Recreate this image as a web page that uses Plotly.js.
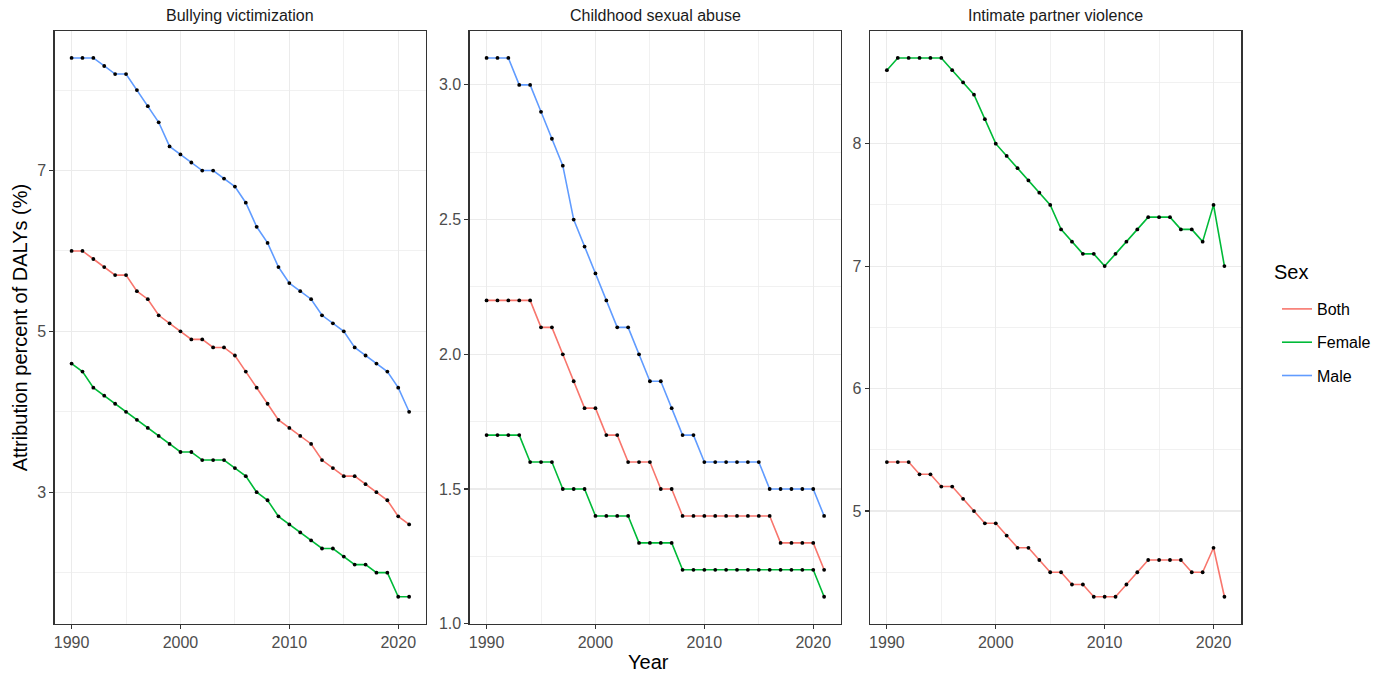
<!DOCTYPE html>
<html>
<head>
<meta charset="utf-8">
<script src="https://cdn.plot.ly/plotly-3.0.1.min.js"></script>
<style>html,body{margin:0;padding:0;background:#fff;}#chart{width:1394px;height:680px;}</style>
</head>
<body>
<div id="chart"></div>
<script>
var years = [1990,1991,1992,1993,1994,1995,1996,1997,1998,1999,2000,2001,2002,2003,2004,2005,2006,2007,2008,2009,2010,2011,2012,2013,2014,2015,2016,2017,2018,2019,2020,2021];
var panelTitles = ["Bullying victimization","Childhood sexual abuse","Intimate partner violence"];
var sexes = ["Both","Female","Male"];
var sexColors = {Both:"#F8766D", Female:"#00BA38", Male:"#619CFF"};

var bullyBoth   = [6.0,6.0,5.9,5.8,5.7,5.7,5.5,5.4,5.2,5.1,5.0,4.9,4.9,4.8,4.8,4.7,4.5,4.3,4.1,3.9,3.8,3.7,3.6,3.4,3.3,3.2,3.2,3.1,3.0,2.9,2.7,2.6];
var bullyFemale = [4.6,4.5,4.3,4.2,4.1,4.0,3.9,3.8,3.7,3.6,3.5,3.5,3.4,3.4,3.4,3.3,3.2,3.0,2.9,2.7,2.6,2.5,2.4,2.3,2.3,2.2,2.1,2.1,2.0,2.0,1.7,1.7];
var bullyMale   = [8.4,8.4,8.4,8.3,8.2,8.2,8.0,7.8,7.6,7.3,7.2,7.1,7.0,7.0,6.9,6.8,6.6,6.3,6.1,5.8,5.6,5.5,5.4,5.2,5.1,5.0,4.8,4.7,4.6,4.5,4.3,4.0];

var csaBoth   = [2.2,2.2,2.2,2.2,2.2,2.1,2.1,2.0,1.9,1.8,1.8,1.7,1.7,1.6,1.6,1.6,1.5,1.5,1.4,1.4,1.4,1.4,1.4,1.4,1.4,1.4,1.4,1.3,1.3,1.3,1.3,1.2];
var csaFemale = [1.7,1.7,1.7,1.7,1.6,1.6,1.6,1.5,1.5,1.5,1.4,1.4,1.4,1.4,1.3,1.3,1.3,1.3,1.2,1.2,1.2,1.2,1.2,1.2,1.2,1.2,1.2,1.2,1.2,1.2,1.2,1.1];
var csaMale   = [3.1,3.1,3.1,3.0,3.0,2.9,2.8,2.7,2.5,2.4,2.3,2.2,2.1,2.1,2.0,1.9,1.9,1.8,1.7,1.7,1.6,1.6,1.6,1.6,1.6,1.6,1.5,1.5,1.5,1.5,1.5,1.4];

var ipvBoth   = [5.4,5.4,5.4,5.3,5.3,5.2,5.2,5.1,5.0,4.9,4.9,4.8,4.7,4.7,4.6,4.5,4.5,4.4,4.4,4.3,4.3,4.3,4.4,4.5,4.6,4.6,4.6,4.6,4.5,4.5,4.7,4.3];
var ipvFemale = [8.6,8.7,8.7,8.7,8.7,8.7,8.6,8.5,8.4,8.2,8.0,7.9,7.8,7.7,7.6,7.5,7.3,7.2,7.1,7.1,7.0,7.1,7.2,7.3,7.4,7.4,7.4,7.3,7.3,7.2,7.5,7.0];

var panels = [
  {series:{Both:bullyBoth, Female:bullyFemale, Male:bullyMale}},
  {series:{Both:csaBoth, Female:csaFemale, Male:csaMale}},
  {series:{Both:ipvBoth, Female:ipvFemale}}
];

var W = 1394, H = 680;
var FONT = "Liberation Sans, Arial, sans-serif";
var px = function(v){ return v / W; };
var py = function(v){ return 1 - v / H; };
var domX = [[px(54.7), px(426)], [px(469.7), px(841)], [px(870), px(1241.3)]];
var domY = [py(623.7), py(31)];

var traces = [];
panels.forEach(function(p, i){
  var ax = i === 0 ? "" : String(i+1);
  sexes.forEach(function(s){
    if (!p.series[s]) return;
    traces.push({
      type:"scatter", mode:"lines", x:years, y:p.series[s],
      xaxis:"x"+ax, yaxis:"y"+ax, name:s, legendgroup:s,
      showlegend: i === 0,
      line:{color:sexColors[s], width:1.6}, hoverinfo:"x+y+name"
    });
  });
  sexes.forEach(function(s){
    if (!p.series[s]) return;
    traces.push({
      type:"scatter", mode:"markers", x:years, y:p.series[s],
      xaxis:"x"+ax, yaxis:"y"+ax, showlegend:false, legendgroup:s,
      marker:{color:"#000000", size:3.8}, hoverinfo:"skip"
    });
  });
});

function xAxis(i){
  return {
    domain: domX[i], anchor: i === 0 ? "y" : "y"+(i+1),
    range:[1988.45, 2022.55], tickvals:[1990,2000,2010,2020],
    ticks:"outside", ticklen:4, tickcolor:"#333333", tickwidth:1.1,
    tickfont:{family:FONT, size:16, color:"#4d4d4d"},
    showgrid:true, gridcolor:"#ebebeb", gridwidth:1.2,
    minor:{tickvals:[1995,2005,2015], showgrid:true, gridcolor:"#ebebeb", gridwidth:0.7, ticks:""},
    showline:true, linecolor:"#333333", linewidth:1.3, mirror:true,
    zeroline:false, fixedrange:true
  };
}
function yAxis(i, range, tickvals, minorvals, fmt){
  return {
    domain: domY, anchor: i === 0 ? "x" : "x"+(i+1),
    range: range, tickvals: tickvals, tickformat: fmt,
    ticks:"outside", ticklen:4, tickcolor:"#333333", tickwidth:1.1,
    tickfont:{family:FONT, size:16, color:"#4d4d4d"},
    showgrid:true, gridcolor:"#ebebeb", gridwidth:1.2,
    minor:{tickvals:minorvals, showgrid:true, gridcolor:"#ebebeb", gridwidth:0.7, ticks:""},
    showline:true, linecolor:"#333333", linewidth:1.3, mirror:true,
    zeroline:false, fixedrange:true
  };
}

var annotations = panelTitles.map(function(t, i){
  return {text:t, xref:"paper", yref:"paper", x:(domX[i][0]+domX[i][1])/2, y:py(15),
    xanchor:"center", yanchor:"middle", showarrow:false,
    font:{family:FONT, size:16, color:"#1a1a1a"}};
});
annotations.push({text:"Attribution percent of DALYs (%)", xref:"paper", yref:"paper",
  x:px(20), y:(domY[0]+domY[1])/2, textangle:-90, xanchor:"center", yanchor:"middle",
  showarrow:false, font:{family:FONT, size:20, color:"#000000"}});
annotations.push({text:"Year", xref:"paper", yref:"paper",
  x:(domX[0][0]+domX[2][1])/2, y:py(662), xanchor:"center", yanchor:"middle",
  showarrow:false, font:{family:FONT, size:20, color:"#000000"}});
annotations.push({text:"Sex", xref:"paper", yref:"paper",
  x:px(1272), y:py(272), xanchor:"left", yanchor:"middle",
  showarrow:false, font:{family:FONT, size:20, color:"#000000"}});

var layout = {
  width:W, height:H, margin:{l:0,r:0,t:0,b:0},
  paper_bgcolor:"#ffffff", plot_bgcolor:"#ffffff",
  font:{family:FONT},
  showlegend:true,
  legend:{x:px(1277), y:py(292), xanchor:"left", yanchor:"top",
    font:{family:FONT, size:16, color:"#000000"},
    tracegroupgap:9.5, bgcolor:"rgba(0,0,0,0)"},
  xaxis: xAxis(0), xaxis2: xAxis(1), xaxis3: xAxis(2),
  yaxis: yAxis(0, [1.365, 8.735], [3,5,7], [2,4,6,8], ""),
  yaxis2: yAxis(1, [1.0, 3.2], [1.0,1.5,2.0,2.5,3.0], [1.25,1.75,2.25,2.75], ".1f"),
  yaxis3: yAxis(2, [4.08, 8.92], [5,6,7,8], [4.5,5.5,6.5,7.5,8.5], ""),
  annotations: annotations
};

Plotly.newPlot("chart", traces, layout, {displayModeBar:false, staticPlot:true});
</script>
</body>
</html>
